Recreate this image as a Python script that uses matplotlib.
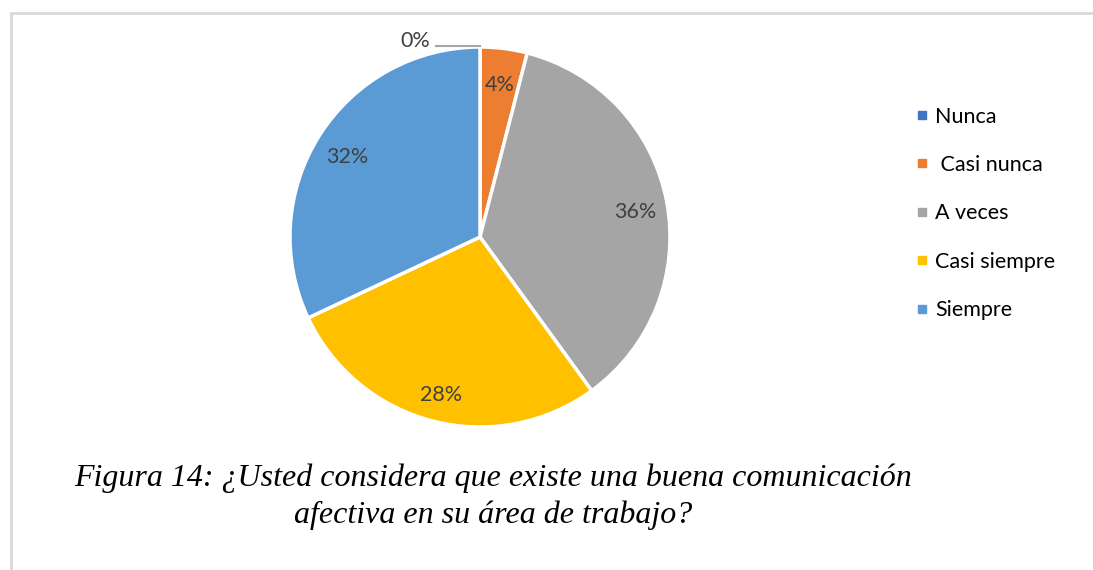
import numpy as np
import matplotlib.pyplot as plt
from matplotlib.patches import Rectangle
from matplotlib.lines import Line2D

categorias = ['Nunca', ' Casi nunca', 'A veces', 'Casi siempre', 'Siempre']
porcentajes = [0, 4, 36, 28, 32]
colores = ['#4472C4', '#ED7D31', '#A5A5A5', '#FFC000', '#5B9BD5']
titulo = 'Figura 14: ¿Usted considera que existe una buena comunicación\nafectiva en su área de trabajo?'

plt.rcParams['font.family'] = ['Lato', 'DejaVu Sans']

fig = plt.figure(figsize=(10.93, 5.70), dpi=100)

# marco gris claro alrededor del grafico
fig.patches.append(Rectangle((11/1093, -0.1), 1.2, 1 - 13/570 + 0.1, transform=fig.transFigure,
                             fill=False, edgecolor='#D9D9D9', linewidth=2))

ax = fig.add_axes([290/1093, 1 - 427/570, 380/1093, 380/570])
wedges, texts = ax.pie(porcentajes, colors=colores, startangle=90, counterclock=False,
                       wedgeprops=dict(edgecolor='white', linewidth=2.5))
ax.set_xlim(-1, 1)
ax.set_ylim(-1, 1)
ax.set_aspect('equal')

# etiquetas de porcentaje
for w, p in zip(wedges, porcentajes):
    if p == 0:
        # el 0% va fuera con una linea guia
        ax.plot([-0.23, 0], [1.005, 1.005], color='#A5A5A5', lw=1.5, clip_on=False)
        ax.text(-0.34, 1.04, f'{p}%', ha='center', va='center_baseline', fontsize=15.5,
                color='#404040')
        continue
    ang = np.deg2rad((w.theta1 + w.theta2) / 2)
    r = 0.83
    ax.text(r * np.cos(ang), r * np.sin(ang) - 0.015, f'{p}%', ha='center', va='center_baseline',
            fontsize=15.5, color='#404040')

handles = [Line2D([0], [0], marker='s', color='w', markerfacecolor=c, markeredgecolor=c,
                  markersize=6) for c in colores]
fig.legend(handles, categorias, loc='upper left', bbox_to_anchor=(907/1093, 1 - 98/570),
           frameon=False, fontsize=15.5, labelspacing=1.32, handlelength=0.6,
           handletextpad=0.3, borderaxespad=0)

fig.text(493/1093, 1 - 497/570, titulo, ha='center', va='center', ma='center',
         fontsize=23, family='Liberation Serif', style='italic', linespacing=1.32)

fig.savefig('out.png', dpi=100)
